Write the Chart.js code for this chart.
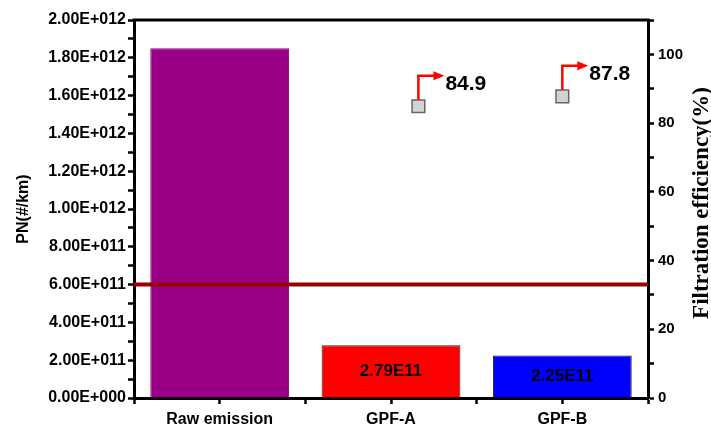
<!DOCTYPE html>
<html>
<head>
<meta charset="utf-8">
<script src="https://cdn.jsdelivr.net/npm/chart.js@4/dist/chart.umd.min.js"></script>
<style>
  html, body { margin: 0; padding: 0; background: #fff; }
  #wrap { width: 711px; height: 428px; }
</style>
</head>
<body>
<div id="wrap"><canvas id="chart" width="711" height="428"></canvas></div>
<script>
// data
const categories = ['Raw emission', 'GPF-A', 'GPF-B'];
const pn = [1.85e12, 2.79e11, 2.25e11];
const pnLabels = ['', '2.79E11', '2.25E11'];
const barColors = ['#990085', '#ff0000', '#0000ff'];
const effPos = [1.16, 2.0];
const efficiency = [84.9, 87.8];
const limit = 6e11;

const FONT = "'Liberation Sans', Arial, sans-serif";

function sci(v) {
  const [m, e] = v.toExponential(2).split('e');
  const n = parseInt(e, 10);
  return m + 'E' + (n < 0 ? '-' : '+') + String(Math.abs(n)).padStart(3, '0');
}

const extras = {
  id: 'extras',
  afterDatasetsDraw(chart) {
    const {ctx, chartArea: a, scales} = chart;
    ctx.save();

    // limit line
    const ly = scales.y.getPixelForValue(limit);
    ctx.strokeStyle = '#990000';
    ctx.lineWidth = 4;
    ctx.beginPath();
    ctx.moveTo(a.left, ly);
    ctx.lineTo(a.right, ly);
    ctx.stroke();

    // values inside the bars
    ctx.fillStyle = '#000';
    ctx.font = 'bold 17px ' + FONT;
    ctx.textAlign = 'center';
    ctx.textBaseline = 'middle';
    chart.getDatasetMeta(0).data.forEach((bar, i) => {
      if (!pnLabels[i]) return;
      ctx.fillText(pnLabels[i], bar.x, (bar.y + bar.base) / 2);
    });

    // efficiency arrows + labels
    chart.getDatasetMeta(1).data.forEach((pt, i) => {
      const x = pt.x, top = pt.y - 6.5 - 24;
      ctx.strokeStyle = '#ff0000';
      ctx.fillStyle = '#ff0000';
      ctx.lineWidth = 2.5;
      ctx.beginPath();
      ctx.moveTo(x, pt.y - 6.5);
      ctx.lineTo(x, top);
      ctx.lineTo(x + 16, top);
      ctx.stroke();
      ctx.beginPath();
      ctx.moveTo(x + 15, top - 4.5);
      ctx.lineTo(x + 26, top);
      ctx.lineTo(x + 15, top + 4.5);
      ctx.closePath();
      ctx.fill();
      ctx.fillStyle = '#000';
      ctx.font = 'bold 21px ' + FONT;
      ctx.textAlign = 'left';
      ctx.fillText(efficiency[i].toFixed(1), x + 27, top + 8);
    });
    ctx.restore();
  },
  afterDraw(chart) {
    const {ctx, chartArea: a} = chart;
    ctx.save();
    // top frame
    ctx.strokeStyle = '#000';
    ctx.lineWidth = 3;
    ctx.beginPath();
    ctx.moveTo(a.left - 1.5, a.top);
    ctx.lineTo(a.right + 1.5, a.top);
    ctx.stroke();
    // right axis title, reading bottom to top
    ctx.translate(702, (a.top + a.bottom) / 2 - 6);
    ctx.rotate(-Math.PI / 2);
    ctx.fillStyle = '#000';
    ctx.font = "bold 23px 'Liberation Serif', 'Times New Roman', serif";
    ctx.textAlign = 'center';
    ctx.textBaseline = 'middle';
    ctx.fillText('Filtration efficiency(%)', 0, 0);
    ctx.restore();
  }
};

const grid = {
  drawOnChartArea: false,
  tickLength: 6,
  tickWidth: 2.5,
  tickColor: '#000'
};
const border = { display: true, width: 3, color: '#000' };

new Chart(document.getElementById('chart'), {
  type: 'bar',
  data: {
    datasets: [
      {
        type: 'bar',
        data: categories.map((c, i) => ({x: i, y: pn[i]})),
        backgroundColor: barColors,
        borderColor: ['#990085', '#222', '#222'],
        borderWidth: 1,
        // linear x with ticks every 0.5 -> bar ruler is half a category
        barPercentage: 1.62,
        categoryPercentage: 1,
        xAxisID: 'x',
        yAxisID: 'y',
        order: 2
      },
      {
        type: 'scatter',
        data: efficiency.map((v, i) => ({x: effPos[i], y: v})),
        pointStyle: 'rect',
        radius: 9,
        backgroundColor: '#d3d3d3',
        borderColor: '#666',
        borderWidth: 1.5,
        xAxisID: 'x',
        yAxisID: 'y2',
        order: 1
      }
    ]
  },
  options: {
    responsive: false,
    animation: false,
    layout: { padding: { top: 20, left: 0, right: 0, bottom: 0 } },
    plugins: { legend: { display: false }, tooltip: { enabled: false } },
    scales: {
      x: {
        type: 'linear',
        min: -0.5,
        max: 2.5,
        offset: false,
        grid: { ...grid, offset: false },
        border,
        ticks: {
          stepSize: 0.5,
          autoSkip: false,
          maxRotation: 0,
          padding: 6,
          color: '#000',
          font: { family: FONT, size: 16, weight: 'bold' },
          callback: v => Number.isInteger(v) ? categories[v] : ''
        },
        afterFit: s => { s.height = 30; }
      },
      y: {
        position: 'left',
        min: 0,
        max: 2e12,
        grid,
        border,
        ticks: {
          stepSize: 1e11,
          autoSkip: false,
          padding: 2,
          color: '#000',
          font: { family: FONT, size: 16, weight: 'bold' },
          callback: (v, i) => i % 2 === 0 ? sci(v) : ''
        },
        title: {
          display: true,
          text: 'PN(#/km)',
          color: '#000',
          font: { family: FONT, size: 16, weight: 'bold' },
          padding: { top: 14, bottom: 0 }
        },
        afterFit: s => { s.width = 134; }
      },
      y2: {
        position: 'right',
        min: 0,
        max: 110,
        grid,
        border,
        ticks: {
          stepSize: 10,
          autoSkip: false,
          padding: 4,
          color: '#000',
          font: { family: FONT, size: 15, weight: 'bold' },
          callback: v => (v % 20 === 0 && v <= 100) ? v : ''
        },
        afterFit: s => { s.width = 63; }
      }
    }
  },
  plugins: [extras]
});
</script>
</body>
</html>
